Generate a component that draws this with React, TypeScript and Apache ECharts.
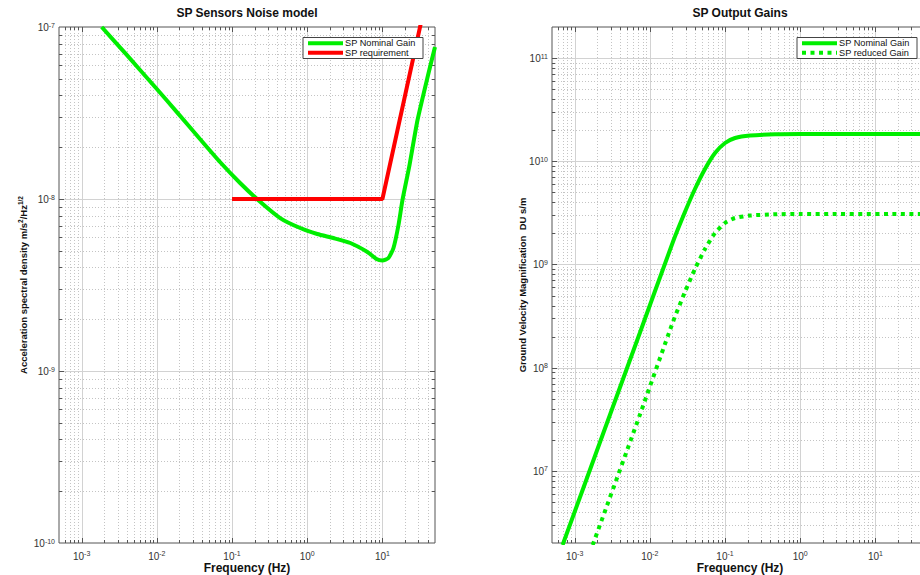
import React, { useEffect, useRef } from 'react';
import * as echarts from 'echarts';

// ---- Left plot: SP Sensors Noise model ----
const F_NOISE = [0.001848, 0.00398, 0.01, 0.01848, 0.03744, 0.06918, 0.1279, 0.2222, 0.4365, 0.8065, 1.359, 2.222, 3.744, 6.31, 8.318, 10, 12.02, 14.02, 16.35, 18.48, 22.91, 29.29, 41.06, 50];
const NOISE = [1.0e-7, 6.88e-8, 4.36e-8, 3.2e-8, 2.233e-8, 1.641e-8, 1.239e-8, 9.87e-9, 7.75e-9, 6.78e-9, 6.26e-9, 5.93e-9, 5.55e-9, 4.92e-9, 4.478e-9, 4.389e-9, 4.54e-9, 5.19e-9, 7.06e-9, 9.87e-9, 1.576e-8, 2.88e-8, 5.4e-8, 7.65e-8];
const F_REQ = [0.1, 10, 50];
const REQ = [1e-8, 1e-8, 2.5e-7];

// ---- Right plot: SP Output Gains ----
const F_NOM = [6.918e-4, 2.154e-3, 7.356e-3, 0.02026, 0.02929, 0.03981, 0.05412, 0.07356, 0.1, 0.1359, 0.2154, 0.4642, 1, 50];
const NOMINAL = [1.913e6, 1.862e7, 2.167e8, 1.651e9, 3.224e9, 5.385e9, 8.414e9, 1.203e10, 1.503e10, 1.68e10, 1.777e10, 1.825e10, 1.837e10, 1.837e10];
const F_RED = [1.738e-3, 7.356e-3, 0.02026, 0.02929, 0.03981, 0.05412, 0.07356, 0.1, 0.1359, 0.2154, 0.4642, 1, 50];
const REDUCED = [1.913e6, 3.478e7, 2.77e8, 5.41e8, 9.04e8, 1.412e9, 2.018e9, 2.522e9, 2.82e9, 2.981e9, 3.063e9, 3.083e9, 3.083e9];

// ---- axes ----
const X_RANGE = [5e-4, 50];
const Y1_RANGE = [1e-10, 1e-7];
const Y2_RANGE = [2e6, 2e11];
const X_DECADES = [-4, -3, -2, -1, 0, 1];
const Y1_DECADES = [-10, -9, -8];
const Y2_DECADES = [6, 7, 8, 9, 10, 11];
const MULTS = [1, 2, 3, 4, 5, 6, 7, 8, 9];

const TITLES = ['SP Sensors Noise model', 'SP Output Gains'];
const X_NAME = 'Frequency (Hz)';
const NAMES_LEFT = ['SP Nominal Gain', 'SP requirement'];
const NAMES_RIGHT = ['SP Nominal Gain', 'SP reduced Gain'];

const FONT = 'Liberation Sans, Arial, Helvetica, sans-serif';
const GREEN = '#00ee00';
const RED = '#ff0000';

function tickItems(xr: number[], yr: number[], xd: number[], yd: number[]) {
  const out: any[] = [];
  for (const d of xd) for (const m of MULTS) {
    const v = m * Math.pow(10, d);
    if (v > xr[0] * 1.0001 && v < xr[1] * 0.9999) out.push([v, yr[0], 0, m === 1 ? 1 : 0]);
  }
  for (const d of yd) for (const m of MULTS) {
    const v = m * Math.pow(10, d);
    if (v > yr[0] * 1.0001 && v < yr[1] * 0.9999) out.push([xr[0], v, 1, m === 1 ? 1 : 0]);
  }
  return out;
}

const renderTicks = (params: any, api: any) => {
  const kind = api.value(2);
  const major = api.value(3) === 1;
  const cs = params.coordSys;
  const p = api.coord([api.value(0), api.value(1)]);
  const gridStyle = major
    ? { stroke: '#d2d2d2', lineWidth: 1 }
    : { stroke: '#c4c4c4', lineWidth: 1, lineDash: [1, 2] };
  const tickStyle = { stroke: '#555', lineWidth: 1 };
  const tl = major ? 5 : 3;
  const children: any[] = [];
  if (kind === 0) {
    const x = Math.round(p[0]) + 0.5;
    const y0 = cs.y, y1 = cs.y + cs.height;
    children.push({ type: 'line', shape: { x1: x, y1: y0, x2: x, y2: y1 }, style: gridStyle });
    children.push({ type: 'line', shape: { x1: x, y1: y1, x2: x, y2: y1 - tl }, style: tickStyle });
    children.push({ type: 'line', shape: { x1: x, y1: y0, x2: x, y2: y0 + tl }, style: tickStyle });
  } else {
    const y = Math.round(p[1]) + 0.5;
    const x0 = cs.x, x1 = cs.x + cs.width;
    children.push({ type: 'line', shape: { x1: x0, y1: y, x2: x1, y2: y }, style: gridStyle });
    children.push({ type: 'line', shape: { x1: x0, y1: y, x2: x0 + tl, y2: y }, style: tickStyle });
    children.push({ type: 'line', shape: { x1: x1, y1: y, x2: x1 - tl, y2: y }, style: tickStyle });
  }
  return { type: 'group', children };
};

const supLabel = (v: number) => {
  const l = Math.log10(v);
  const n = Math.round(l);
  if (Math.abs(l - n) > 1e-6) return '';
  return `{b|10}{s|${n}}`;
};

const labelRich = {
  b: { fontSize: 10, lineHeight: 11, verticalAlign: 'bottom', color: '#333', fontFamily: FONT },
  s: { fontSize: 7, lineHeight: 7, verticalAlign: 'top', padding: [0, 0, 5, 0], color: '#333', fontFamily: FONT },
};
const nameRich = {
  n: { fontSize: 9.5, lineHeight: 11, verticalAlign: 'bottom', fontWeight: 'bold', color: '#111', fontFamily: FONT },
  s: { fontSize: 6.5, lineHeight: 7, verticalAlign: 'top', padding: [0, 0, 4, 0], fontWeight: 'bold', color: '#111', fontFamily: FONT },
};

function logAxis(gridIndex: number, range: number[], extra: any) {
  return {
    gridIndex,
    type: 'log',
    logBase: 10,
    min: range[0],
    max: range[1],
    axisLine: { show: false },
    axisTick: { show: false },
    splitLine: { show: false },
    minorTick: { show: false },
    minorSplitLine: { show: false },
    nameMoveOverlap: false,
    ...extra,
  };
}

function legendGraphic(x: number, y: number, names: string[], dashed: boolean[], colors: string[]) {
  const Z = 100;
  const children: any[] = [
    { type: 'rect', z: Z, shape: { x: 0, y: 0, width: 120, height: 21 }, style: { fill: '#fff', stroke: '#444', lineWidth: 1 } },
  ];
  names.forEach((nm, i) => {
    const ly = 5.8 + i * 9.4;
    const lineStyle: any = { stroke: colors[i], lineWidth: 4 };
    if (dashed[i]) lineStyle.lineDash = [4, 4.5];
    children.push({ type: 'line', z: Z + 1, shape: { x1: 5, y1: ly, x2: 40, y2: ly }, style: lineStyle });
    children.push({
      type: 'text',
      z: Z + 1,
      x: 42,
      y: ly,
      style: { text: nm, fontSize: 9.2, lineHeight: 9.2, fontFamily: FONT, fill: '#111', verticalAlign: 'middle', align: 'left' },
    });
  });
  return { type: 'group', x, y, z: Z, children };
}

const xName = {
  name: X_NAME, nameLocation: 'middle', nameGap: 19,
  nameTextStyle: { fontSize: 12, fontWeight: 'bold', fontFamily: FONT, color: '#111' },
  axisLabel: { formatter: supLabel, rich: labelRich, margin: 7 },
};

function buildOption() {
  return {
    animation: false,
    backgroundColor: '#fff',
    title: [
      { text: TITLES[0], left: 247, top: 7, textAlign: 'center', padding: 0, textStyle: { fontSize: 12, fontWeight: 'bold', fontFamily: FONT, color: '#111' } },
      { text: TITLES[1], left: 740, top: 7, textAlign: 'center', padding: 0, textStyle: { fontSize: 12, fontWeight: 'bold', fontFamily: FONT, color: '#111' } },
    ],
    grid: [
      { left: 59, top: 27, width: 376, height: 516, show: true, borderColor: '#555', borderWidth: 1, backgroundColor: '#fff', containLabel: false, outerBoundsMode: 'none' },
      { left: 552, top: 27, width: 376, height: 516, show: true, borderColor: '#555', borderWidth: 1, backgroundColor: '#fff', containLabel: false, outerBoundsMode: 'none' },
    ],
    xAxis: [
      logAxis(0, X_RANGE, xName),
      logAxis(1, X_RANGE, xName),
    ],
    yAxis: [
      logAxis(0, Y1_RANGE, {
        axisLabel: { formatter: supLabel, rich: labelRich, margin: 4 },
        name: '{n|Acceleration spectral density m/s}{s|2}{n|/Hz}{s|1/2}',
        nameLocation: 'middle', nameGap: 31, nameRotate: 90,
        nameTextStyle: { rich: nameRich },
      }),
      logAxis(1, Y2_RANGE, {
        axisLabel: { formatter: supLabel, rich: labelRich, margin: 4 },
        name: '{n|Ground Velocity Magnification  DU s/m}',
        nameLocation: 'middle', nameGap: 25, nameRotate: 90,
        nameTextStyle: { rich: nameRich },
      }),
    ],
    series: [
      { type: 'custom', xAxisIndex: 0, yAxisIndex: 0, renderItem: renderTicks, data: tickItems(X_RANGE, Y1_RANGE, X_DECADES, Y1_DECADES), z: 1, silent: true },
      { type: 'custom', xAxisIndex: 1, yAxisIndex: 1, renderItem: renderTicks, data: tickItems(X_RANGE, Y2_RANGE, X_DECADES, Y2_DECADES), z: 1, silent: true },
      {
        name: NAMES_LEFT[0], type: 'line', xAxisIndex: 0, yAxisIndex: 0, z: 3,
        data: F_NOISE.map((f, i) => [f, NOISE[i]]), showSymbol: false, symbol: 'none', smooth: 0.2,
        lineStyle: { color: GREEN, width: 4 }, clip: true,
      },
      {
        name: NAMES_LEFT[1], type: 'line', xAxisIndex: 0, yAxisIndex: 0, z: 3,
        data: F_REQ.map((f, i) => [f, REQ[i]]), showSymbol: false, symbol: 'none',
        lineStyle: { color: RED, width: 4, cap: 'butt' }, clip: true,
      },
      {
        name: NAMES_RIGHT[0], type: 'line', xAxisIndex: 1, yAxisIndex: 1, z: 3,
        data: F_NOM.map((f, i) => [f, NOMINAL[i]]), showSymbol: false, symbol: 'none', smooth: 0.2,
        lineStyle: { color: GREEN, width: 4 }, clip: true,
      },
      {
        name: NAMES_RIGHT[1], type: 'line', xAxisIndex: 1, yAxisIndex: 1, z: 3,
        data: F_RED.map((f, i) => [f, REDUCED[i]]), showSymbol: false, symbol: 'none', smooth: 0.2,
        lineStyle: { color: GREEN, width: 4, type: [4, 4.5], cap: 'butt' }, clip: true,
      },
    ],
    graphic: [
      legendGraphic(303, 37.5, NAMES_LEFT, [false, false], [GREEN, RED]),
      legendGraphic(797, 37.5, NAMES_RIGHT, [false, true], [GREEN, GREEN]),
    ],
  };
}

export default function App() {
  const ref = useRef<HTMLDivElement>(null);
  useEffect(() => {
    const chart = echarts.init(ref.current as HTMLDivElement, null, { renderer: 'svg' });
    chart.setOption(buildOption() as any);
    return () => chart.dispose();
  }, []);
  return (
    <div
      ref={ref}
      style={{ position: 'fixed', left: 0, top: 0, width: 920, height: 575, background: '#fff' }}
    />
  );
}
